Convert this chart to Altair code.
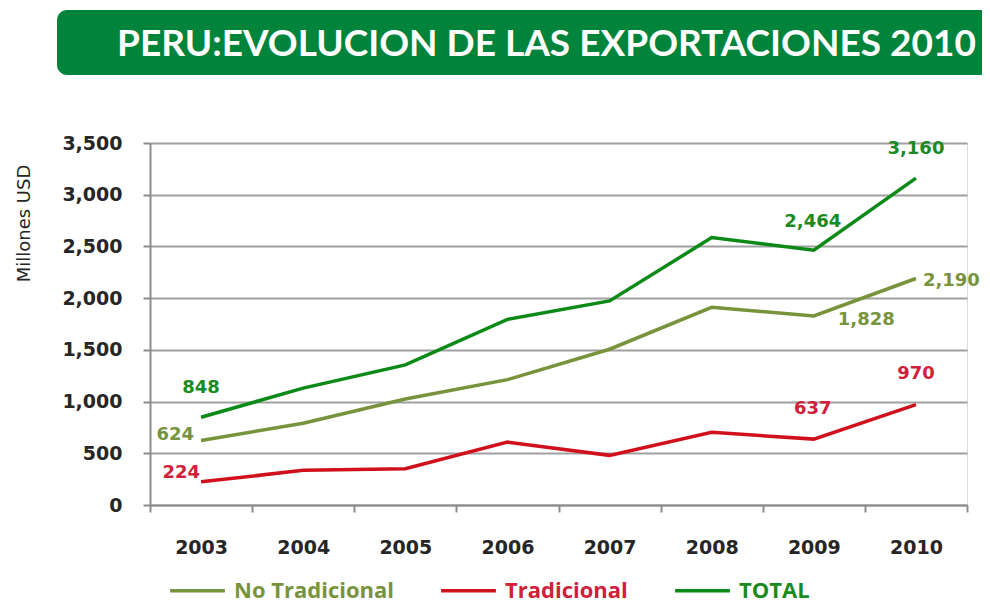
import altair as alt
import pandas as pd

years = ["2003", "2004", "2005", "2006", "2007", "2008", "2009", "2010"]
series_names = ["No Tradicional", "Tradicional", "TOTAL"]
no_tradicional = [624, 790, 1025, 1212, 1506, 1911, 1828, 2190]
tradicional = [224, 335, 350, 608, 480, 703, 637, 970]
total = [848, 1130, 1355, 1795, 1973, 2585, 2464, 3160]
title_text = "PERU:EVOLUCION DE LAS EXPORTACIONES 2010"
y_ticks = [0, 500, 1000, 1500, 2000, 2500, 3000, 3500]

colors = ["#77933C", "#D0101C", "#0B8A17"]
label_colors = {"No Tradicional": "#77933C", "Tradicional": "#D0203A", "TOTAL": "#1A8A22"}

rows = []
for name, vals in zip(series_names, [no_tradicional, tradicional, total]):
    for yr, v in zip(years, vals):
        rows.append({"year": yr, "value": v, "serie": name})
df = pd.DataFrame(rows)

W, H = 817, 362
base = alt.Chart(df)

x_enc = alt.X("year:O", sort=years, title=None,
              scale=alt.Scale(paddingInner=0, paddingOuter=0),
              axis=alt.Axis(tickBand="extent", labelAngle=0, labelFont="DejaVu Sans",
                            labelFontWeight="bold", labelFontSize=19, labelColor="#262626",
                            labelPadding=26, tickSize=7, tickColor="#8c8c8c", tickWidth=2,
                            domainColor="#8c8c8c", domainWidth=2, grid=False))
y_enc = alt.Y("value:Q", scale=alt.Scale(domain=[0, 3500], nice=False),
              axis=alt.Axis(values=y_ticks, format=",.0f", title="Millones USD",
                            titleFont="DejaVu Sans", titleFontSize=18, titleFontWeight="normal",
                            titleColor="#262626", titleX=-126, titleY=80, titleAngle=-90,
                            titleBaseline="middle", titleAlign="center",
                            labelFont="DejaVu Sans", labelFontWeight="bold", labelFontSize=19,
                            labelColor="#262626", labelPadding=21, tickSize=7,
                            tickColor="#8c8c8c", tickWidth=2, domainColor="#8c8c8c",
                            domainWidth=2, gridColor="#a0a0a0", gridWidth=2))

color_expr = ("datum.label == 'TOTAL' ? '%s' : datum.label == 'Tradicional' ? '%s' : '%s'"
              % (label_colors["TOTAL"], label_colors["Tradicional"], label_colors["No Tradicional"]))

lines = base.mark_line(strokeWidth=3.5).encode(
    x=x_enc, y=y_enc,
    color=alt.Color("serie:N", scale=alt.Scale(domain=series_names, range=colors),
                    legend=alt.Legend(title=None, orient="none", direction="horizontal",
                                      legendX=18, legendY=418, columns=3, columnPadding=40,
                                      symbolType="stroke", symbolSize=3000, symbolStrokeWidth=3.5,
                                      labelFont="Open Sans", labelFontWeight="bold", labelFontSize=22,
                                      labelColor=alt.ExprRef(color_expr), labelOffset=7,
                                      padding=0)),
)


def label_layer(serie, yr, align, dx, dy):
    return base.transform_filter(
        (alt.datum.serie == serie) & (alt.datum.year == yr)
    ).mark_text(align=align, baseline="middle", dx=dx, dy=dy, font="DejaVu Sans",
                fontWeight="bold", fontSize=18, color=label_colors[serie]).encode(
        x=alt.X("year:O", sort=years), y="value:Q", text=alt.Text("value:Q", format=","))


labels = [
    label_layer("TOTAL", "2003", "center", 0, -29),
    label_layer("TOTAL", "2009", "center", -1, -28),
    label_layer("TOTAL", "2010", "center", 0, -29),
    label_layer("No Tradicional", "2003", "right", -7, -5),
    label_layer("No Tradicional", "2009", "left", 24, 4),
    label_layer("No Tradicional", "2010", "left", 7, 3),
    label_layer("Tradicional", "2003", "right", -1, -9),
    label_layer("Tradicional", "2009", "center", -1, -30),
    label_layer("Tradicional", "2010", "center", 0, -31),
]

banner_df = pd.DataFrame({"t": [title_text]})
banner = alt.Chart(banner_df).mark_rect(color="#00843C", cornerRadius=10).encode(
    x=alt.value(-93), x2=alt.value(900), y=alt.value(-133), y2=alt.value(-68))
banner_text = alt.Chart(banner_df).mark_text(
    align="left", baseline="middle", font="Lato", fontWeight="bold", fontSize=37,
    color="white").encode(x=alt.value(-33), y=alt.value(-98), text="t:N")

chart = alt.layer(banner, banner_text, lines, *labels).properties(
    width=W, height=H,
    autosize=alt.AutoSizeParams(type="none"),
    padding={"left": 142, "top": 135, "right": 15, "bottom": 102},
).configure_view(stroke=None).configure(background="white")

chart.save("out.html", embed_options={"renderer": "svg", "actions": False})
